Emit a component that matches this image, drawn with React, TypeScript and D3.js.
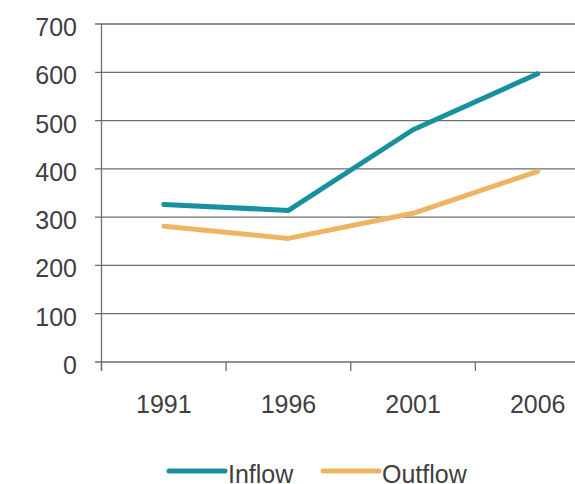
import { useEffect, useRef } from 'react'
import { select, scaleBand, scaleLinear, line, range } from 'd3'

const years = ['1991', '1996', '2001', '2006']
const inflow = [326, 314, 481, 597]
const outflow = [281, 256, 308, 395]
const yTicks = [0, 100, 200, 300, 400, 500, 600, 700]
const seriesNames = ['Inflow', 'Outflow']
const seriesColors = ['#17919d', '#edb562']

const App = () => {
  const svgRef = useRef(null)

  useEffect(() => {
    const width = 575
    const height = 484
    const svg = select(svgRef.current)
    svg.selectAll('*').remove()
    svg.attr('width', width).attr('height', height)

    const font = 'Liberation Sans, Arial, sans-serif'
    const axisColor = '#6e6e6e'
    const textColor = '#404040'

    const x = scaleBand<string>().domain(years).range([101.5, 600]).padding(0)
    const y = scaleLinear().domain([0, 700]).range([362, 24])

    // gridlines + y tick marks
    svg
      .append('g')
      .selectAll('line')
      .data(yTicks)
      .join('line')
      .attr('x1', 95)
      .attr('x2', width)
      .attr('y1', (d) => y(d))
      .attr('y2', (d) => y(d))
      .attr('stroke', axisColor)
      .attr('stroke-width', 1.3)

    // y labels
    svg
      .append('g')
      .selectAll('text')
      .data(yTicks)
      .join('text')
      .attr('x', 77)
      .attr('y', (d) => y(d) + 12)
      .attr('text-anchor', 'end')
      .attr('font-family', font)
      .attr('font-size', 25)
      .attr('fill', textColor)
      .text((d) => d)

    // y axis line
    svg
      .append('line')
      .attr('x1', 101.5)
      .attr('x2', 101.5)
      .attr('y1', y(700))
      .attr('y2', 371)
      .attr('stroke', axisColor)
      .attr('stroke-width', 1.3)

    // x tick marks at band boundaries
    svg
      .append('g')
      .selectAll('line')
      .data(range(years.length + 1))
      .join('line')
      .attr('x1', (i) => 101.5 + i * x.bandwidth())
      .attr('x2', (i) => 101.5 + i * x.bandwidth())
      .attr('y1', y(0))
      .attr('y2', 371)
      .attr('stroke', axisColor)
      .attr('stroke-width', 1.3)

    // x labels
    svg
      .append('g')
      .selectAll('text')
      .data(years)
      .join('text')
      .attr('x', (d) => x(d)! + x.bandwidth() / 2)
      .attr('y', 413)
      .attr('text-anchor', 'middle')
      .attr('font-family', font)
      .attr('font-size', 25)
      .attr('fill', textColor)
      .text((d) => d)

    const lineGen = line<number>()
      .x((_, i) => x(years[i])! + x.bandwidth() / 2)
      .y((d) => y(d))

    ;[inflow, outflow].forEach((values, i) => {
      svg
        .append('path')
        .attr('d', lineGen(values))
        .attr('fill', 'none')
        .attr('stroke', seriesColors[i])
        .attr('stroke-width', 5)
        .attr('stroke-linecap', 'round')
        .attr('stroke-linejoin', 'round')
    })

    // legend
    const legendX = [169, 323]
    seriesNames.forEach((name, i) => {
      const g = svg.append('g').attr('transform', `translate(${legendX[i]}, 471)`)
      g.append('line')
        .attr('x1', 0)
        .attr('x2', 56)
        .attr('y1', 0)
        .attr('y2', 0)
        .attr('stroke', seriesColors[i])
        .attr('stroke-width', 5)
        .attr('stroke-linecap', 'round')
      g.append('text')
        .attr('x', 59)
        .attr('y', 12)
        .attr('font-family', font)
        .attr('font-size', 25)
        .attr('fill', textColor)
        .text(name)
    })
  }, [])

  return <svg ref={svgRef} style={{ position: 'absolute', left: 0, top: 0 }} />
}

export default App
